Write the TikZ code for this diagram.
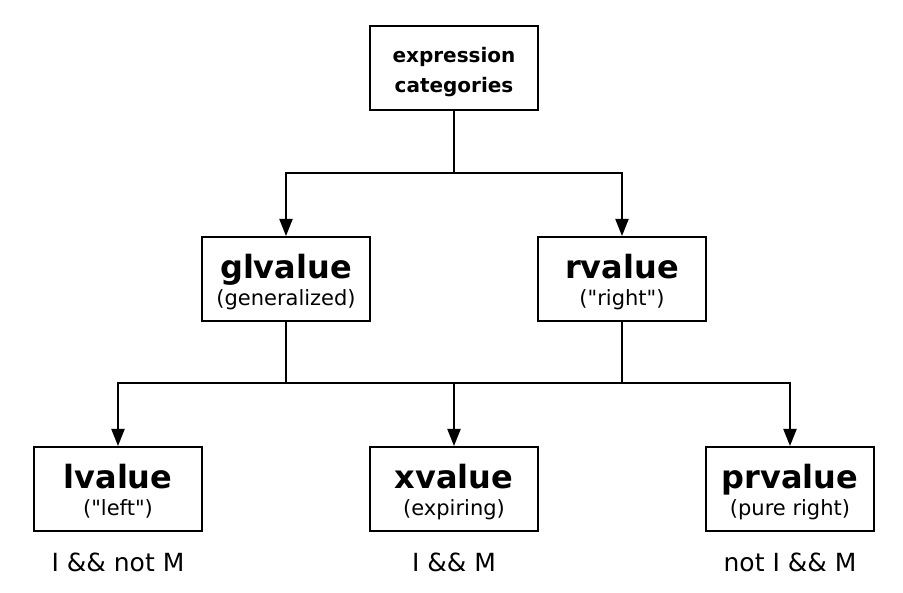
\documentclass[tikz,border=0pt]{standalone}
\usepackage{fontspec}
\setmainfont{DejaVu Sans}[Ligatures=TeXOff]
\usetikzlibrary{arrows.meta}
\begin{document}
\begin{tikzpicture}[x=1pt,y=-1pt,line width=2pt,>={Triangle[length=17pt,width=13pt]},
  cat/.style={draw,minimum width=168pt,minimum height=84pt,inner sep=0pt,align=center,
    text height=54pt,text depth=0pt,font=\fontsize{21}{27}\selectfont},
  rule/.style={font=\fontsize{25}{30}\selectfont}]
\useasboundingbox (0,0) rectangle (903,593);
\node[cat,text height=49pt,font=\fontsize{20}{30}\selectfont\bfseries] (expr) at (454,68.5) {expression\\categories};
\node[cat] (gl) at (286,279) {{\fontsize{32}{32}\selectfont\bfseries glvalue}\\(generalized)};
\node[cat] (rv) at (622,279) {{\fontsize{32}{32}\selectfont\bfseries rvalue}\\("right")};
\node[cat] (lv) at (118,489) {{\fontsize{32}{32}\selectfont\bfseries lvalue}\\("left")};
\node[cat] (xv) at (454,489) {{\fontsize{32}{32}\selectfont\bfseries xvalue}\\(expiring)};
\node[cat] (prv) at (790,489) {{\fontsize{32}{32}\selectfont\bfseries prvalue}\\(pure right)};
\node[rule] (lvr) at (118,562) {I \&\& not M};
\node[rule] (xvr) at (454,562) {I \&\& M};
\node[rule] (prvr) at (790,562) {not I \&\& M};
% connectors
\coordinate (top) at (454,173);
\coordinate (mid) at (454,383);
\draw[->] (expr.south) -- (top) -| (gl.north);
\draw[->] (top) -| (rv.north);
\draw (gl.south) |- (mid);
\draw (rv.south) |- (mid);
\draw[->] (mid) -| (lv.north);
\draw[->] (mid) -| (prv.north);
\draw[->] (mid) -- (xv.north);
\end{tikzpicture}
\end{document}
